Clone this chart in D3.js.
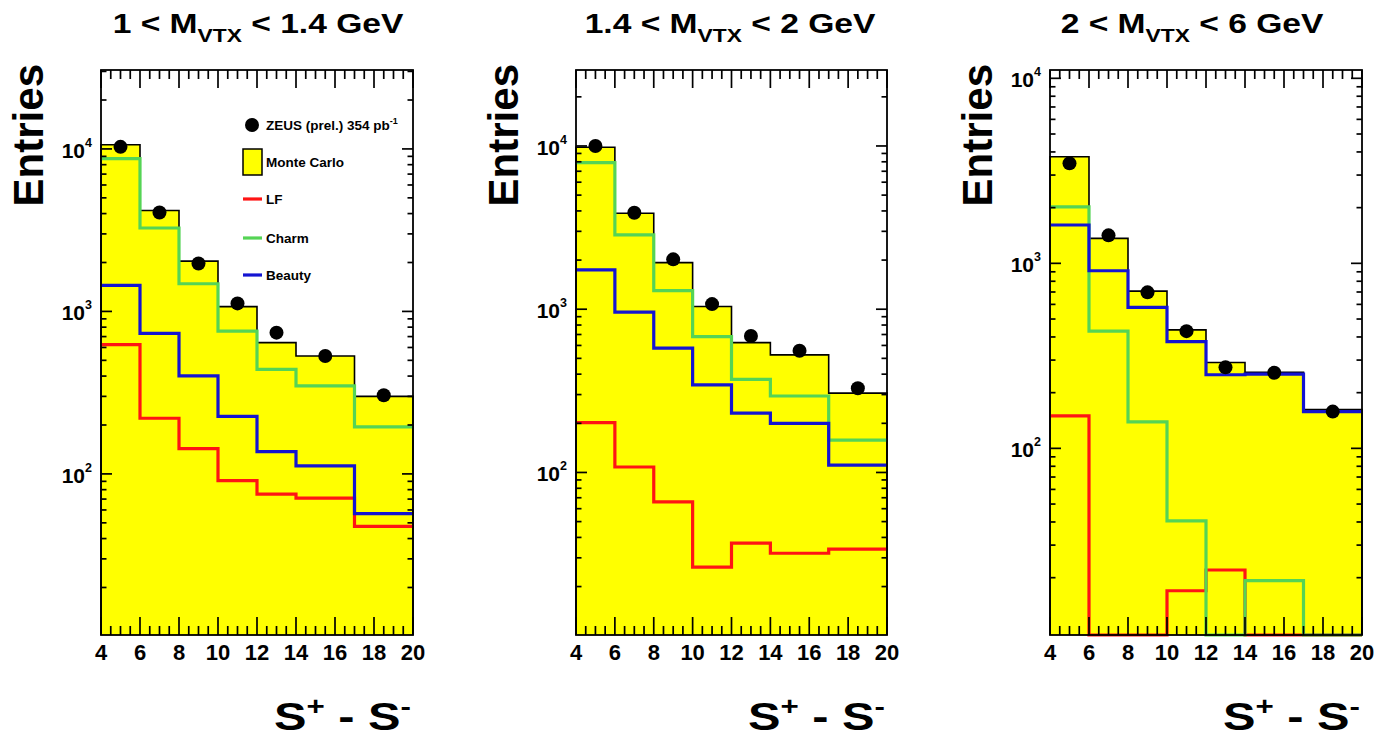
<!DOCTYPE html>
<html>
<head>
<meta charset="utf-8">
<script src="https://cdn.jsdelivr.net/npm/d3@7"></script>
<style>
  html, body { margin: 0; padding: 0; background: #fff; }
  svg text { font-family: "Liberation Sans", Arial, Helvetica, sans-serif; font-weight: bold; fill: #000; }
</style>
</head>
<body>
<svg id="chart" width="1376" height="740"></svg>
<script>
// ---- binning of S+ - S- (variable-width bins) ----
const binEdges = [4, 6, 8, 10, 12, 14, 17, 20];
const xMajorTicks = [4, 6, 8, 10, 12, 14, 16, 18, 20];

// ---- vertex-mass slices ----
const massLow  = ["1", "1.4", "2"];
const massHigh = ["1.4", "2", "6"];

// ---- 1 < M_VTX < 1.4 GeV ----
const data1   = [10300, 4060, 1970, 1120, 740, 532, 305];
const mc1     = [10600, 4180, 2040, 1070, 643, 532, 300];
const lf1     = [625, 220, 143, 91, 75, 71, 47.5];
const charm1  = [8720, 3260, 1480, 757, 440, 348, 195];
const beauty1 = [1445, 733, 401, 226, 137, 112, 57];

// ---- 1.4 < M_VTX < 2 GeV ----
const data2   = [10000, 3900, 2020, 1075, 685, 557, 328];
const mc2     = [9820, 3870, 1930, 1040, 624, 525, 306];
const lf2     = [202, 108, 66, 26.3, 36.9, 32, 33.9];
const charm2  = [7910, 2850, 1300, 680, 372, 294, 158];
const beauty2 = [1741, 960, 577, 344, 231, 200, 111];

// ---- 2 < M_VTX < 6 GeV ----
const data3   = [3470, 1417, 697, 430, 274, 256, 158];
const mc3     = [3770, 1365, 708, 437, 291, 258, 162];
const lf3     = [150, 0, 0, 17, 22, 0, 0];
const charm3  = [2020, 430, 139, 40.6, 0, 19.3, 0];
const beauty3 = [1611, 912, 578, 377, 250, 252, 158];

// ---- legend entries ----
const legendLabels = ["ZEUS (prel.) 354 pb", "Monte Carlo", "LF", "Charm", "Beauty"];

const COLORS = { mc: "#ffff00", lf: "#ff1414", charm: "#55d455", beauty: "#1414d2" };

const svg = d3.select("#chart");
const TOP = 70, BOTTOM = 635;

const panels = [
  { x0: 101, x1: 413, yMin: 10.2, yMax: 30600, titleX: 258,
    data: data1, mc: mc1, lf: lf1, charm: charm1, beauty: beauty1, legend: true },
  { x0: 576, x1: 887, yMin: 10.1, yMax: 29200, titleX: 730,
    data: data2, mc: mc2, lf: lf2, charm: charm2, beauty: beauty2, legend: false },
  { x0: 1050, x1: 1362, yMin: 9.8, yMax: 11090, titleX: 1192,
    data: data3, mc: mc3, lf: lf3, charm: charm3, beauty: beauty3, legend: false }
];

function stepPoints(vals) {
  const pts = [];
  vals.forEach((v, i) => { pts.push([binEdges[i], v]); pts.push([binEdges[i + 1], v]); });
  return pts;
}

// inward-pointing tick marks along one side of the frame
function ticks(g, values, pos, side, len) {
  g.append("g").selectAll("line").data(values).join("line")
    .attr("x1", d => side === "h" ? pos.scale(d) : pos.at)
    .attr("x2", d => side === "h" ? pos.scale(d) : pos.at + pos.dir * len)
    .attr("y1", d => side === "h" ? pos.at : pos.scale(d))
    .attr("y2", d => side === "h" ? pos.at + pos.dir * len : pos.scale(d))
    .attr("stroke", "#000").attr("stroke-width", 1.7);
}

function drawPanel(p, idx) {
  const x = d3.scaleLinear().domain([4, 20]).range([p.x0, p.x1]);
  const y = d3.scaleLog().domain([p.yMin, p.yMax]).range([BOTTOM, TOP]);
  const yv = v => y(Math.max(v, p.yMin));
  const g = svg.append("g");

  // Monte Carlo total: yellow fill + black outline
  const mcPts = [[4, p.yMin], ...stepPoints(p.mc), [20, p.yMin]];
  g.append("path")
    .attr("d", d3.area().x(d => x(d[0])).y0(y(p.yMin)).y1(d => yv(d[1]))(mcPts))
    .attr("fill", COLORS.mc);
  g.append("path")
    .attr("d", d3.line().x(d => x(d[0])).y(d => yv(d[1]))(mcPts))
    .attr("fill", "none").attr("stroke", "#000").attr("stroke-width", 1.6);

  // component histograms
  const line = d3.line().x(d => x(d[0])).y(d => yv(d[1]));
  [["lf", p.lf], ["charm", p.charm], ["beauty", p.beauty]].forEach(([k, vals]) => {
    g.append("path")
      .attr("d", line(stepPoints(vals)))
      .attr("fill", "none").attr("stroke", COLORS[k]).attr("stroke-width", 3.2)
      .attr("stroke-linejoin", "miter");
  });

  // tick marks (inward, mirrored on all four sides)
  const minorX = d3.range(4, 20.001, 0.5).filter(v => v % 2 !== 0);
  const minorY = [];
  for (let e = 0; e <= 5; e++) for (let m = 2; m <= 9; m++) {
    const v = m * Math.pow(10, e);
    if (v > p.yMin && v < p.yMax) minorY.push(v);
  }
  const majorY = [100, 1000, 10000].filter(v => v >= p.yMin && v <= p.yMax);

  ticks(g, xMajorTicks, { scale: x, at: BOTTOM, dir: -1 }, "h", 18);
  ticks(g, minorX, { scale: x, at: BOTTOM, dir: -1 }, "h", 9);
  ticks(g, xMajorTicks, { scale: x, at: TOP, dir: 1 }, "h", 18);
  ticks(g, minorX, { scale: x, at: TOP, dir: 1 }, "h", 9);
  ticks(g, majorY, { scale: y, at: p.x0, dir: 1 }, "v", 11);
  ticks(g, minorY, { scale: y, at: p.x0, dir: 1 }, "v", 5.5);
  ticks(g, majorY, { scale: y, at: p.x1, dir: -1 }, "v", 11);
  ticks(g, minorY, { scale: y, at: p.x1, dir: -1 }, "v", 5.5);

  // x tick labels
  g.append("g").selectAll("text").data(xMajorTicks).join("text")
    .attr("x", d => x(d)).attr("y", BOTTOM + 25)
    .attr("text-anchor", "middle").attr("font-size", 22).text(d => d);

  // y tick labels 10^n
  majorY.forEach(v => {
    const t = g.append("text").attr("x", p.x0 - 9).attr("y", y(v) + 9).attr("text-anchor", "end");
    t.append("tspan").attr("font-size", 21).text("10");
    t.append("tspan").attr("font-size", 12.5).attr("dy", -11).text(Math.round(Math.log10(v)));
  });

  // frame
  g.append("rect").attr("x", p.x0).attr("y", TOP).attr("width", p.x1 - p.x0).attr("height", BOTTOM - TOP)
    .attr("fill", "none").attr("stroke", "#000").attr("stroke-width", 1.8);

  // data points
  g.selectAll("circle.pt").data(p.data).join("circle")
    .attr("class", "pt")
    .attr("cx", (d, i) => x((binEdges[i] + binEdges[i + 1]) / 2))
    .attr("cy", d => y(d))
    .attr("r", 7).attr("fill", "#000");

  // title
  const tg = svg.append("g").attr("transform", `translate(${p.titleX},33) scale(1.2,1)`);
  const tt = tg.append("text").attr("text-anchor", "middle").attr("font-size", 28);
  tt.append("tspan").text(`${massLow[idx]} < M`);
  tt.append("tspan").attr("font-size", 19).attr("dy", 9).text("VTX");
  tt.append("tspan").attr("dy", -9).text(` < ${massHigh[idx]} GeV`);

  // y-axis title
  svg.append("text")
    .attr("transform", `translate(${p.x0 - 58},64) rotate(-90)`)
    .attr("text-anchor", "end").attr("font-size", 42).text("Entries");

  // x-axis title
  const xg = svg.append("g").attr("transform", `translate(${p.x1 - 2},730) scale(1.25,1)`);
  const xt = xg.append("text").attr("text-anchor", "end").attr("font-size", 39);
  xt.append("tspan").text("S");
  xt.append("tspan").attr("font-size", 25).attr("dy", -15).text("+");
  xt.append("tspan").attr("dy", 15).text(" - S");
  xt.append("tspan").attr("font-size", 25).attr("dy", -15).text("-");

  if (p.legend) drawLegend(p.x0);
}

function drawLegend(x0) {
  const lx = x0 + 142, tx = x0 + 165;
  const rows = [125, 162, 199, 238, 275];
  const lg = svg.append("g");
  lg.append("circle").attr("cx", x0 + 151).attr("cy", rows[0]).attr("r", 7).attr("fill", "#000");
  lg.append("rect").attr("x", lx).attr("y", rows[1] - 13).attr("width", 19).attr("height", 26)
    .attr("fill", COLORS.mc).attr("stroke", "#000").attr("stroke-width", 1.5);
  [["lf", rows[2]], ["charm", rows[3]], ["beauty", rows[4]]].forEach(([k, ry]) => {
    lg.append("line").attr("x1", lx).attr("x2", lx + 19).attr("y1", ry).attr("y2", ry)
      .attr("stroke", COLORS[k]).attr("stroke-width", 3.2);
  });
  legendLabels.forEach((lab, i) => {
    const t = lg.append("text").attr("x", tx).attr("y", rows[i] + 5).attr("font-size", 13.5);
    t.append("tspan").text(lab);
    if (i === 0) t.append("tspan").attr("font-size", 9).attr("dy", -6).text("-1");
  });
}

panels.forEach(drawPanel);
</script>
</body>
</html>
